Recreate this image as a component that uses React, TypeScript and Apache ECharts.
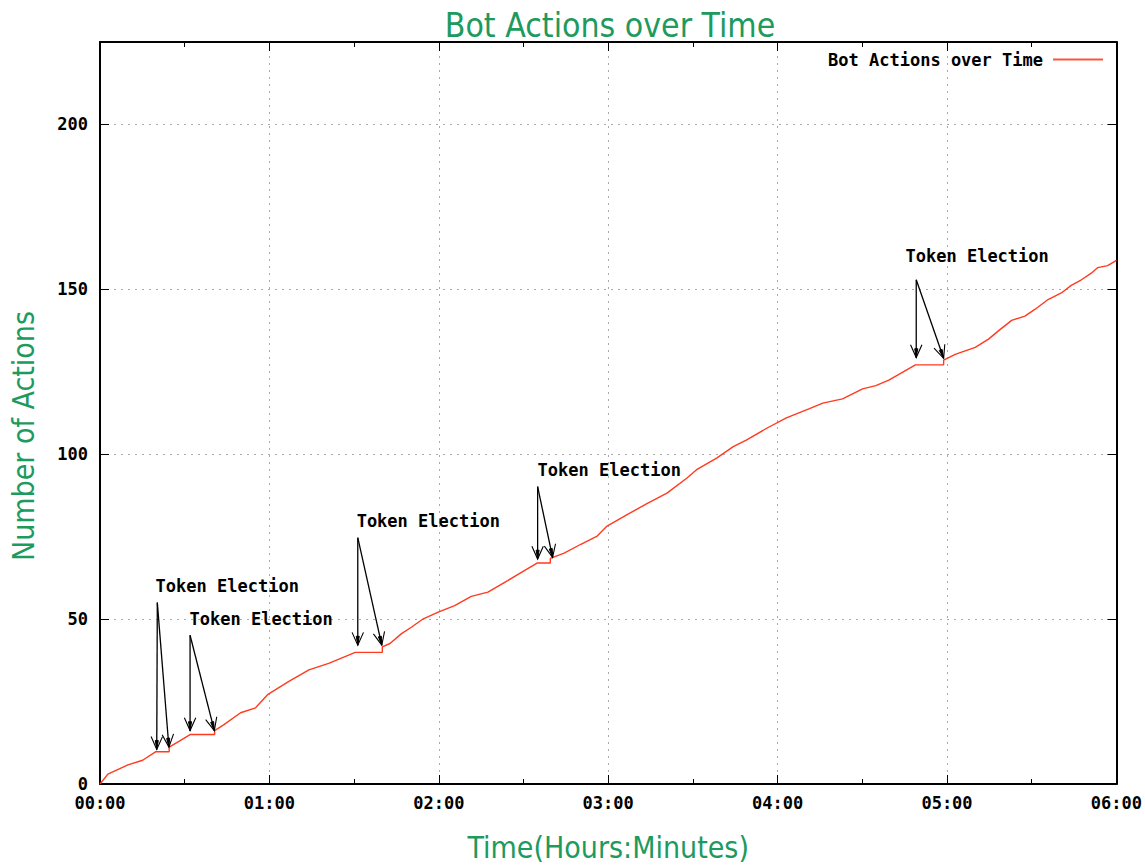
import React, { useEffect, useRef } from "react";
import * as echarts from "echarts";

// ---- data ----
const timeMinutes = [
  0, 2.8, 9.9, 15.1, 19.8, 24.5, 24.5, 28.1, 31.9, 40.6, 40.6, 43.9, 49.8, 55.1, 59.5,
  66.9, 74.0, 81.0, 88.7, 90.4, 100.0, 100.0, 102.7, 106.8, 110.4, 114.5, 119.8, 125.6,
  131.5, 137.4, 144.4, 150.3, 154.8, 159.5, 159.5, 164.4, 170.3, 176.1, 179.6, 186.7,
  193.7, 200.8, 207.8, 211.3, 218.4, 224.3, 228.9, 236.0, 243.1, 251.3, 256.0, 263.0,
  270.1, 274.8, 279.4, 284.2, 288.8, 298.8, 298.8, 302.9, 310.0, 314.7, 318.2, 322.9,
  327.6, 331.1, 335.8, 340.5, 344.0, 347.6, 351.1, 353.4, 356.9, 360,
];
const actionCounts = [
  0, 3.0, 5.8, 7.2, 9.8, 9.8, 11.2, 13.0, 15.0, 15.0, 16.2, 18.0, 21.6, 23.1, 27.2,
  31.1, 34.6, 36.6, 39.3, 39.9, 39.9, 41.6, 42.6, 45.6, 47.6, 50.1, 52.1, 54.1,
  56.9, 58.2, 61.7, 64.7, 67.0, 67.0, 68.4, 70.0, 72.7, 75.2, 78.2, 81.7,
  85.0, 88.2, 92.7, 95.3, 98.8, 102.3, 104.3, 107.8, 111.0, 113.8, 115.5, 116.8,
  119.8, 120.8, 122.5, 124.8, 127.1, 127.1, 128.5, 130.3, 132.4, 134.9, 137.4, 140.6,
  141.9, 143.9, 146.9, 148.9, 151.2, 152.9, 154.9, 156.6, 157.2, 158.8,
];

const xTickLabels = ["00:00", "01:00", "02:00", "03:00", "04:00", "05:00", "06:00"];

// annotation labels
const labelTexts = ["Token Election", "Token Election", "Token Election", "Token Election", "Token Election"];
const labelT = [19.7, 31.7, 90.9, 155.0, 285.3];
const labelV = [59.9, 49.9, 79.7, 95.1, 160.0];

// arrows (start -> end)
const arrowStartT = [20.3, 20.3, 31.9, 31.9, 91.3, 91.3, 155.0, 155.0, 289.1, 289.1];
const arrowStartV = [55.0, 55.0, 45.1, 45.1, 74.7, 74.7, 90.2, 90.2, 152.9, 152.9];
const arrowEndT = [20.1, 24.4, 31.9, 40.5, 91.3, 99.8, 155.0, 160.3, 289.1, 298.8];
const arrowEndV = [10.5, 11.2, 16.2, 16.2, 42.1, 42.1, 68.2, 68.7, 129.3, 129.1];

const GREEN = "#1d9a5e";
const NARROW = '"DejaVu Sans Condensed", "Liberation Sans Narrow", "DejaVu Sans", sans-serif';
const MONO = '"DejaVu Sans Mono", "Liberation Mono", monospace';
const LINE_COLOR = "#ff3a1f";

export default function App() {
  const ref = useRef<HTMLDivElement>(null);
  useEffect(() => {
    document.body.style.margin = "0";
    const chart = echarts.init(ref.current!, null, { renderer: "svg" });
    const gridLine = { show: true, lineStyle: { color: "#aaaaaa", type: [2, 5] as any, width: 1 } };
    const axisLineStyle = { show: true, onZero: false, lineStyle: { color: "#000", width: 2 } };
    const tickStyle = { show: true, inside: true, length: 9, lineStyle: { color: "#000", width: 1 } };
    const minorStyle = { show: true, splitNumber: 2, length: 5, lineStyle: { color: "#000", width: 1 } };
    const tickLabelStyle = { color: "#000", fontFamily: MONO, fontWeight: "bold" as const, fontSize: 17 };

    const option: any = {
      animation: false,
      backgroundColor: "#fff",
      title: {
        text: "Bot Actions over Time",
        left: 605,
        textAlign: "center",
        top: 3,
        textStyle: { color: GREEN, fontFamily: NARROW, fontWeight: "normal", fontSize: 33.5 },
      },
      legend: {
        data: [{ name: "Bot Actions over Time", icon: "rect" }],
        right: 37,
        top: 46,
        align: "right",
        itemWidth: 50,
        itemHeight: 2,
        itemStyle: { color: "#f4583c" },
        textStyle: { color: "#000", fontFamily: MONO, fontWeight: "bold", fontSize: 17, padding: [0, 5, 0, 0] },
      },
      grid: { left: 100, top: 42, width: 1022, height: 747, containLabel: false },
      graphic: [
        {
          type: "text",
          x: 23,
          y: 436,
          rotation: Math.PI / 2,
          style: {
            text: "Number of Actions",
            fill: GREEN,
            font: `30px ${NARROW}`,
            align: "center",
            verticalAlign: "middle",
          },
        },
      ],
      xAxis: [
        {
          type: "value",
          position: "bottom",
          min: 0,
          max: 360,
          interval: 60,
          axisLine: axisLineStyle,
          axisTick: tickStyle,
          minorTick: minorStyle,
          splitLine: gridLine,
          axisLabel: {
            ...tickLabelStyle,
            margin: 10,
            formatter: (v: number) => xTickLabels[Math.round(v / 60)] ?? "",
          },
          name: "Time(Hours:Minutes)",
          nameLocation: "middle",
          nameGap: 48,
          nameTextStyle: { color: GREEN, fontFamily: NARROW, fontSize: 30 },
        },
        {
          type: "value",
          position: "top",
          min: 0,
          max: 360,
          interval: 60,
          axisLine: axisLineStyle,
          axisTick: tickStyle,
          minorTick: minorStyle,
          splitLine: { show: false },
          axisLabel: { show: false },
        },
      ],
      yAxis: [
        {
          type: "value",
          position: "left",
          min: 0,
          max: 225,
          interval: 50,
          axisLine: axisLineStyle,
          axisTick: tickStyle,
          splitLine: gridLine,
          axisLabel: { ...tickLabelStyle, margin: 12, showMaxLabel: false },
        },
        {
          type: "value",
          position: "right",
          min: 0,
          max: 225,
          interval: 50,
          axisLine: axisLineStyle,
          axisTick: tickStyle,
          splitLine: { show: false },
          axisLabel: { show: false },
        },
      ],
      series: [
        {
          type: "line",
          name: "Bot Actions over Time",
          xAxisIndex: 0,
          yAxisIndex: 0,
          data: timeMinutes.map((t, i) => [t, actionCounts[i]]),
          symbol: "none",
          lineStyle: { color: LINE_COLOR, width: 1.4 },
          itemStyle: { color: LINE_COLOR },
          z: 3,
        },
        {
          type: "custom",
          name: "arrows",
          xAxisIndex: 0,
          yAxisIndex: 0,
          silent: true,
          z: 5,
          data: arrowStartT.map((t, i) => [t, arrowStartV[i], arrowEndT[i], arrowEndV[i]]),
          encode: { x: [0, 2], y: [1, 3] },
          renderItem: (params: any, api: any) => {
            const p0 = api.coord([api.value(0), api.value(1)]);
            const p1 = api.coord([api.value(2), api.value(3)]);
            const ang = Math.atan2(p1[1] - p0[1], p1[0] - p0[0]);
            const L = 14;
            const a = 0.42;
            const h1 = [p1[0] - L * Math.cos(ang - a), p1[1] - L * Math.sin(ang - a)];
            const h2 = [p1[0] - L * Math.cos(ang + a), p1[1] - L * Math.sin(ang + a)];
            const f1 = [p1[0] - 9 * Math.cos(ang - 0.17), p1[1] - 9 * Math.sin(ang - 0.17)];
            const f2 = [p1[0] - 9 * Math.cos(ang + 0.17), p1[1] - 9 * Math.sin(ang + 0.17)];
            return {
              type: "group",
              children: [
                { type: "line", shape: { x1: p0[0], y1: p0[1], x2: p1[0], y2: p1[1] }, style: { stroke: "#000", lineWidth: 1.3 } },
                { type: "polyline", shape: { points: [h1, p1, h2] }, style: { stroke: "#000", fill: null, lineWidth: 1.1 } },
                { type: "polygon", shape: { points: [f1, p1, f2] }, style: { fill: "#000", stroke: "#000", lineWidth: 1 } },
              ],
            };
          },
        },
        {
          type: "custom",
          name: "labels",
          xAxisIndex: 0,
          yAxisIndex: 0,
          silent: true,
          z: 6,
          data: labelT.map((t, i) => [t, labelV[i]]),
          renderItem: (params: any, api: any) => {
            const p = api.coord([api.value(0), api.value(1)]);
            return {
              type: "text",
              x: p[0],
              y: p[1],
              style: {
                text: labelTexts[params.dataIndex],
                fill: "#000",
                font: `bold 17px ${MONO}`,
                align: "left",
                verticalAlign: "middle",
              },
            };
          },
        },
      ],
    };
    chart.setOption(option);
    return () => chart.dispose();
  }, []);
  return <div ref={ref} style={{ width: 1145, height: 867, position: "absolute", left: 0, top: 0 }} />;
}
